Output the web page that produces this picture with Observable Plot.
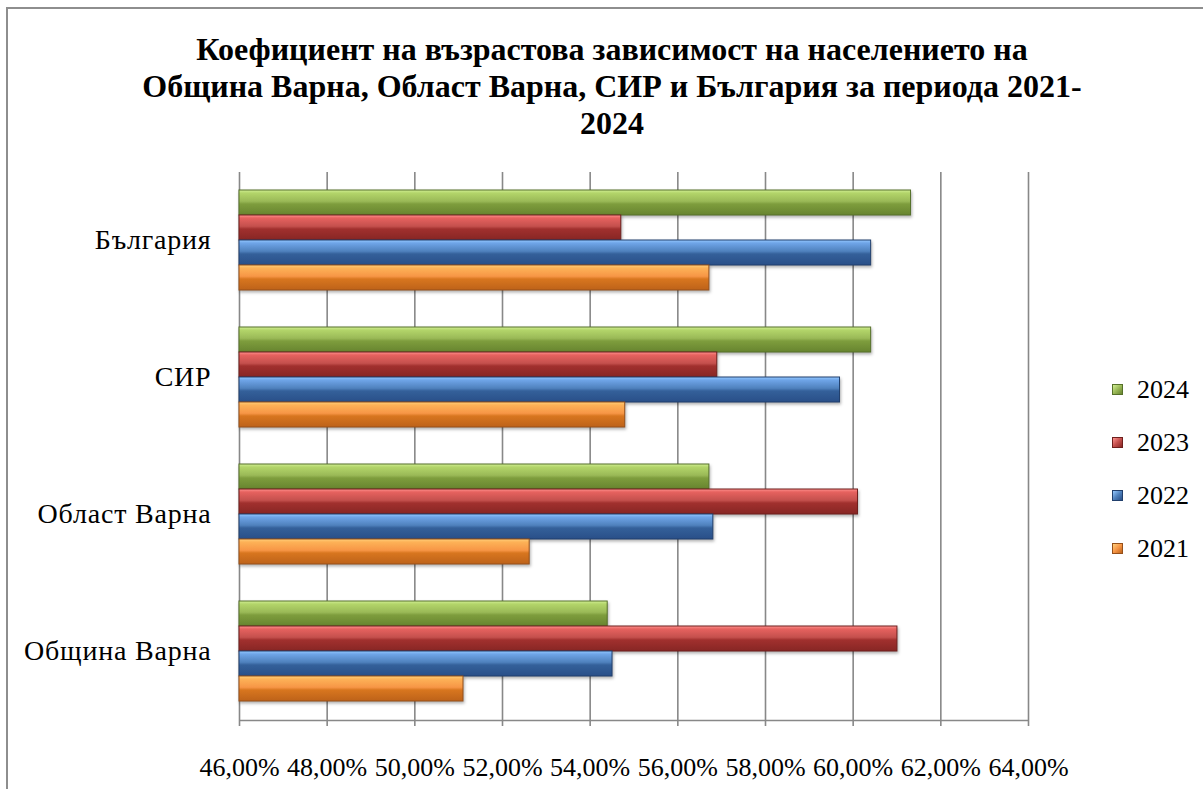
<!DOCTYPE html>
<html>
<head>
<meta charset="utf-8">
<script src="https://cdn.jsdelivr.net/npm/d3@7"></script>
<script src="https://cdn.jsdelivr.net/npm/@observablehq/plot@0.6"></script>
<style>
  body { margin: 0; background: #fff; }
  #wrap { position: relative; width: 1203px; height: 789px; overflow: hidden; font-family: "Liberation Serif", "Times New Roman", serif; background: #fff; }
  #border { position: absolute; left: 6px; top: 7px; width: 1300px; height: 900px; border-left: 2px solid #8e8e8e; border-top: 2px solid #8e8e8e; }
  #title { position: absolute; left: 0; width: 1224px; top: 31px; text-align: center; font-weight: bold; font-size: 32px; line-height: 37px; color: #000; white-space: nowrap; }
  .layer { position: absolute; left: 0; top: 0; }
  .layer svg { overflow: visible; }
  #bars g[aria-label="bar"] rect { filter: drop-shadow(1px 2px 1.5px rgba(0,0,0,0.3)); }
  #bars g[aria-label="fy-axis tick label"] text { letter-spacing: 0.8px; }
  #legend { position: absolute; left: 1112px; top: 363px; }
  .item { height: 53px; display: flex; align-items: center; font-size: 26px; color: #000; }
  .sw { width: 11px; height: 11px; margin-right: 14px; box-sizing: border-box; border: 1px solid; }
</style>
</head>
<body>
<div id="wrap">
  <div id="border"></div>
  <div id="title">Коефициент на възрастова зависимост на населението на<br>Община Варна, Област Варна, СИР и България за периода 2021-<br>2024</div>
  <div id="grid" class="layer"></div>
  <div id="bars" class="layer"></div>
  <div id="legend"></div>
</div>
<script>
// ---- data ----
const regions = ["България", "СИР", "Област Варна", "Община Варна"];
const years = ["2024", "2023", "2022", "2021"];
const values2024 = [61.32, 60.41, 56.72, 54.40];
const values2023 = [54.71, 56.90, 60.11, 61.01];
const values2022 = [60.41, 59.70, 56.81, 54.51];
const values2021 = [56.72, 54.80, 52.62, 51.11];
const xDomain = [46, 64];
const xTicks = [46, 48, 50, 52, 54, 56, 58, 60, 62, 64];

const seriesByYear = { "2024": values2024, "2023": values2023, "2022": values2022, "2021": values2021 };
const palette = {
  "2024": { stops: ["#d2ef95", "#b3d56a", "#9ab957", "#7e9d3d", "#67842f"], stroke: "#56712a" },
  "2023": { stops: ["#ff9390", "#e6625f", "#c4504d", "#a1302e", "#872624"], stroke: "#6e1f1d" },
  "2022": { stops: ["#95c9ff", "#6fa5e8", "#4f81bd", "#34609a", "#294f88"], stroke: "#213f6c" },
  "2021": { stops: ["#ffd07c", "#fdb257", "#f79646", "#d8761f", "#bd6219"], stroke: "#96501a" }
};
const stopOffsets = [0, 0.12, 0.45, 0.56, 1];

const data = regions.flatMap((r, i) => years.map(y => ({ region: r, year: y, value: seriesByYear[y][i] })));

const W = 1203, H = 789;
const margins = { marginTop: 172, marginBottom: 69, marginLeft: 239, marginRight: 175 };
const fmt = d => d.toFixed(2).replace(".", ",") + "%";
const FONT = "'Liberation Serif', 'Times New Roman', serif";

// ---- background: grid and x axis ----
const grid = Plot.plot({
  width: W, height: H, ...margins,
  style: { background: "transparent", fontFamily: FONT, fontSize: "26px", color: "#000" },
  x: { domain: xDomain },
  y: { domain: [0, 1], axis: null },
  marks: [
    Plot.ruleX(xTicks, { stroke: "#888888", strokeWidth: 1.6 }),
    Plot.ruleY([0], { stroke: "#888888", strokeWidth: 1.6 }),
    Plot.axisX(xTicks, { tickSize: 6, tickPadding: 31, tickFormat: fmt, stroke: "#888888", strokeWidth: 1.6, fontSize: 26, fontFamily: FONT, label: null })
  ]
});
document.getElementById("grid").appendChild(grid);

// ---- bars ----
const bars = Plot.plot({
  width: W, height: H, ...margins,
  style: { background: "transparent", fontFamily: FONT, fontSize: "28px", color: "#000" },
  x: { domain: xDomain, axis: null },
  y: { domain: years, axis: null, padding: 0 },
  fy: { domain: regions, paddingInner: 0.27, paddingOuter: 0.135, axis: null },
  marks: [
    ...years.map(yr => Plot.barX(data.filter(d => d.year === yr), {
      x1: xDomain[0], x2: "value", y: "year", fy: "region",
      fill: `url(#grad${yr})`, stroke: palette[yr].stroke, strokeWidth: 1
    })),
    Plot.axisFy({ anchor: "left", tickSize: 0, tickPadding: 28, fontSize: 28, fontFamily: FONT, label: null })
  ]
});
const defs = d3.select(bars).insert("defs", ":first-child");
years.forEach(yr => {
  const g = defs.append("linearGradient").attr("id", `grad${yr}`).attr("x1", 0).attr("y1", 0).attr("x2", 0).attr("y2", 1);
  palette[yr].stops.forEach((c, i) => g.append("stop").attr("offset", stopOffsets[i]).attr("stop-color", c));
});
document.getElementById("bars").appendChild(bars);

// ---- legend ----
const legend = d3.select("#legend");
years.forEach(yr => {
  const it = legend.append("div").attr("class", "item");
  const s = palette[yr].stops;
  it.append("div").attr("class", "sw")
    .style("background", `linear-gradient(135deg, ${s[0]} 0%, ${s[2]} 50%, ${s[4]} 100%)`)
    .style("border-color", palette[yr].stroke);
  it.append("span").text(yr);
});
</script>
</body>
</html>
